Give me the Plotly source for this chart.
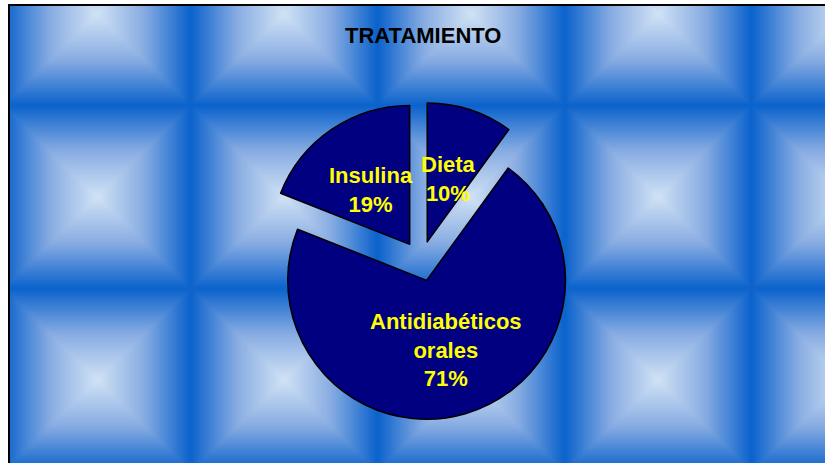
import numpy as np
import plotly.graph_objects as go

# ---- data ----
labels = ["Dieta", "Antidiabéticos orales", "Insulina"]
label_text = ["Dieta", "Antidiabéticos<br>orales", "Insulina"]
values = [10, 71, 19]
title_text = "TRATAMIENTO"

# ---- layout constants (pixels) ----
W, H = 825, 463
PIE_CX, PIE_CY = 421, 261
PIE_HALF = 159
PULL = 0.145
LABEL_FRAC = 0.5
LABEL_DY = 3

# ---- background: tiled "from center" gradient ----
TILE_W, TILE_H = 187, 183
TILE_X0, TILE_Y0 = 3, -78
xs = np.arange(9, W + 2, 2.0)
ys = np.arange(5, H + 2, 2.0)
X, Y = np.meshgrid(xs, ys)
fx = np.abs(((X - TILE_X0) % TILE_W) / TILE_W - 0.5) * 2
fy = np.abs(((Y - TILE_Y0) % TILE_H) / TILE_H - 0.5) * 2
T = np.maximum(fx, fy)

bg = go.Heatmap(
    x=xs, y=ys, z=T,
    colorscale=[[0, "#d0e2f5"], [0.5, "#88ace2"], [1, "#0a62cc"]],
    zmin=0, zmax=1, zsmooth="best", showscale=False, hoverinfo="skip",
)

pie = go.Pie(
    labels=labels, values=values, sort=False, direction="clockwise", rotation=0,
    pull=[PULL] * len(values),
    marker=dict(colors=["#000080"] * len(values), line=dict(color="black", width=1.5)),
    textinfo="none", showlegend=False,
    domain=dict(
        x=[(PIE_CX - PIE_HALF) / W, (PIE_CX + PIE_HALF) / W],
        y=[(H - PIE_CY - PIE_HALF) / H, (H - PIE_CY + PIE_HALF) / H],
    ),
)

fig = go.Figure([bg, pie])

# label positions derived from pie geometry
r = PIE_HALF / (1 + PULL)
total = sum(values)
start = 0.0
annotations = []
for lab, v in zip(label_text, values):
    frac = v / total
    mid = (start + frac / 2) * 2 * np.pi
    start += frac
    dx, dy = np.sin(mid), -np.cos(mid)
    px = PIE_CX + dx * (PULL * r + LABEL_FRAC * r)
    py = PIE_CY + dy * (PULL * r + LABEL_FRAC * r) + LABEL_DY
    annotations.append(dict(
        x=px, y=py, xref="x", yref="y",
        text=f"{lab}<br>{round(frac * 100)}%", showarrow=False,
        font=dict(family="Liberation Sans, Arial", size=22, color="#ffff00", weight="bold"),
        align="center",
    ))

annotations.append(dict(
    x=422.5, y=35, xref="x", yref="y", text=title_text, showarrow=False,
    font=dict(family="Liberation Sans, Arial", size=22, color="black", weight="bold"),
))

fig.update_layout(
    width=W, height=H, margin=dict(l=0, r=0, t=0, b=0),
    paper_bgcolor="white", plot_bgcolor="white",
    xaxis=dict(range=[0, W], visible=False, fixedrange=True),
    yaxis=dict(range=[H, 0], visible=False, fixedrange=True),
    annotations=annotations,
    shapes=[dict(type="rect", xref="x", yref="y", x0=9, y0=5, x1=W + 5, y1=H + 5,
                 line=dict(color="black", width=2), layer="above")],
)

fig.write_html(
    "out.html",
    config={"displayModeBar": False},
    post_script="document.body.style.margin='0';document.body.style.overflow='hidden';",
)
